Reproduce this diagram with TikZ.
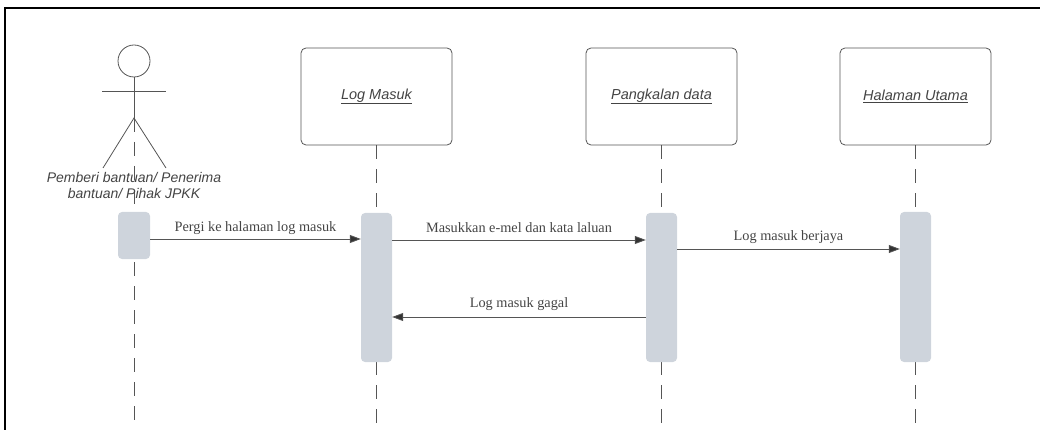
\documentclass[tikz,border=0pt]{standalone}
\usepackage{fontspec}
\setmainfont{Liberation Serif}
\setsansfont{Liberation Sans}
\usetikzlibrary{arrows.meta}
\definecolor{actfill}{HTML}{CED4DC}
\definecolor{linegray}{HTML}{555555}
\definecolor{textgray}{HTML}{444444}
\tikzset{
  objbox/.style={draw=linegray, line width=0.8pt, rounded corners=5pt, fill=white,
    minimum width=151pt, minimum height=97pt, inner sep=0pt,
    font=\sffamily\itshape\fontsize{14.5}{17}\selectfont, text=textgray},
  actbar/.style={fill=actfill, rounded corners=4pt, minimum width=31pt, inner sep=0pt, draw=none},
  lifeline/.style={draw=linegray, line width=0.7pt, dash pattern=on 14pt off 10pt},
  msg/.style={draw=linegray, line width=0.8pt, -{Triangle[length=11pt,width=8pt,fill=black!80]}},
  msglabel/.style={font=\fontsize{14.3}{17}\selectfont, text=textgray, inner sep=0pt},
  actorline/.style={draw=linegray, line width=0.8pt}
}
\begin{document}
\begin{tikzpicture}[x=1pt,y=-1pt]
\useasboundingbox (0,0) rectangle (1040,430);
\draw[line width=1.5pt, black] (5,430) -- (5,8) -- (1040,8);

% actor
\node[circle, draw=linegray, line width=0.8pt, minimum size=32pt, inner sep=0pt] (head) at (134,61) {};
\coordinate (hip) at (134,118);
\coordinate (larm) at (102,91);
\coordinate (rarm) at (166,91);
\coordinate (lleg) at (103,168);
\coordinate (rleg) at (166,168);
\coordinate (e0) at (134,430);
\draw[actorline] (head.south) -- (hip);
\draw[actorline] (larm) -- (rarm);
\draw[actorline] (lleg) -- (hip) -- (rleg);
\draw[lifeline] (hip) -- (e0);
\node[font=\sffamily\itshape\fontsize{14}{16}\selectfont, text=textgray, align=center, inner sep=0pt] (actorlbl) at (134,185) {Pemberi bantuan/ Penerima\\bantuan/ Pihak JPKK};

% object boxes
\node[objbox] (b1) at (376.5,96.5) {\underline{Log Masuk}};
\node[objbox] (b2) at (661.5,96.5) {\underline{Pangkalan data}};
\node[objbox] (b3) at (915.5,96.5) {\underline{Halaman Utama}};
\coordinate (e1) at (376.5,430);
\coordinate (e2) at (661.5,430);
\coordinate (e3) at (915.5,430);
\draw[lifeline] (b1.south) -- (e1);
\draw[lifeline] (b2.south) -- (e2);
\draw[lifeline] (b3.south) -- (e3);

% activation bars
\node[actbar, minimum height=47pt, minimum width=32pt] (a0) at (134,235.5) {};
\node[actbar, minimum height=149pt] (a1) at (376.5,287.5) {};
\node[actbar, minimum height=149pt] (a2) at (661.5,287.5) {};
\node[actbar, minimum height=150pt] (a3) at (915.5,287) {};

% messages
\draw[msg] (a0.east |- 0,239) -- node[msglabel, above=4pt] {Pergi ke halaman log masuk} (a1.west |- 0,239);
\draw[msg] (a1.east |- 0,240) -- node[msglabel, above=7pt] {Masukkan e-mel dan kata laluan} (a2.west |- 0,240);
\draw[msg] (a2.east |- 0,249) -- node[msglabel, above=5pt] {Log masuk berjaya} (a3.west |- 0,249);
\draw[msg] (a2.west |- 0,317) -- node[msglabel, above=6pt] {Log masuk gagal} (a1.east |- 0,317);
\end{tikzpicture}
\end{document}
